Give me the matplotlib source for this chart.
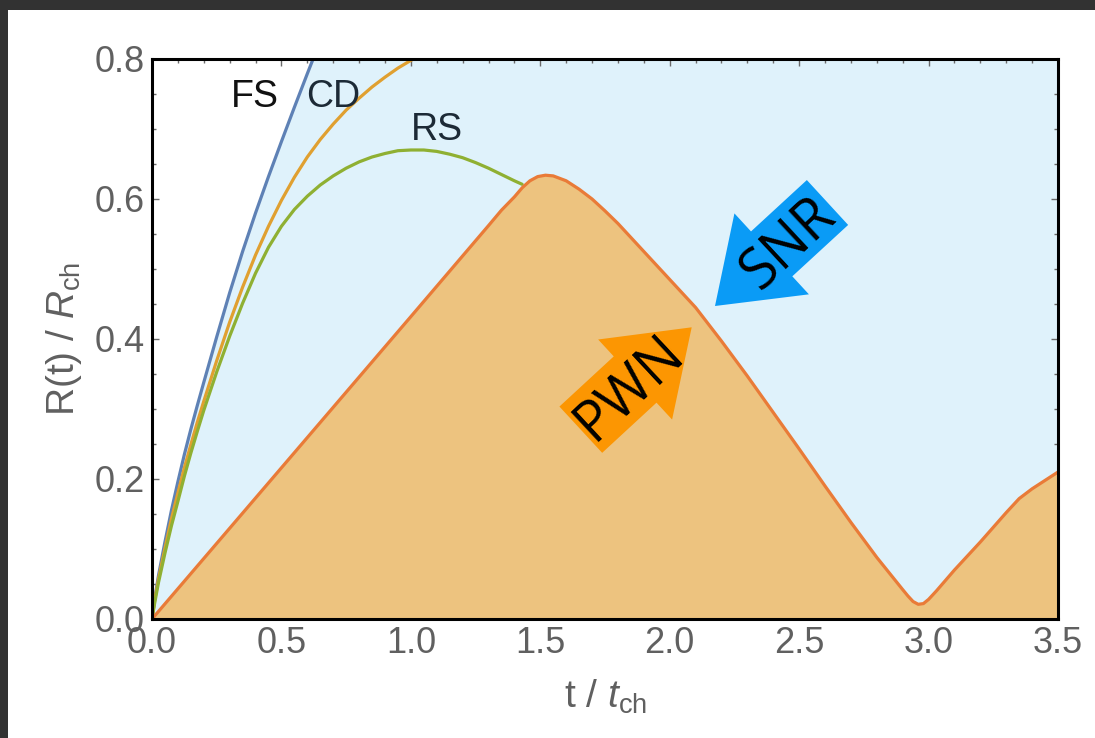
import matplotlib
matplotlib.use("Agg")
import matplotlib.pyplot as plt
from matplotlib.patches import Polygon, Rectangle
import numpy as np

# ---- shock radii (units of R_ch) versus time (units of t_ch) ----
fs_t = [0.0, 0.01, 0.025, 0.05, 0.075, 0.10, 0.125, 0.15, 0.175, 0.20, 0.25, 0.30, 0.35, 0.40,
        0.45, 0.50, 0.55, 0.60, 0.65]
fs_r = [0.0, 0.028, 0.062, 0.110, 0.155, 0.196, 0.235, 0.271, 0.305, 0.338, 0.403, 0.466, 0.525, 0.580,
        0.632, 0.682, 0.731, 0.779, 0.826]

cd_t = [0.0, 0.01, 0.025, 0.05, 0.075, 0.10, 0.125, 0.15, 0.175, 0.20, 0.25, 0.30, 0.35, 0.40, 0.45,
        0.50, 0.55, 0.60, 0.65, 0.70, 0.75, 0.80, 0.85, 0.90, 0.95, 1.00, 1.05, 1.10]
cd_r = [0.0, 0.026, 0.057, 0.101, 0.143, 0.180, 0.216, 0.249, 0.281, 0.311, 0.369, 0.424, 0.474, 0.520, 0.561,
        0.598, 0.631, 0.660, 0.685, 0.707, 0.727, 0.744, 0.760, 0.774, 0.787, 0.798, 0.809, 0.819]

rs_t = [0.0, 0.01, 0.025, 0.05, 0.075, 0.10, 0.125, 0.15, 0.175, 0.20, 0.25, 0.30, 0.35, 0.40, 0.45,
        0.50, 0.55, 0.60, 0.65, 0.70, 0.75, 0.80, 0.85, 0.90, 0.95, 1.00, 1.05, 1.10, 1.15, 1.20,
        1.25, 1.30, 1.35, 1.40, 1.43]
rs_r = [0.0, 0.022, 0.052, 0.094, 0.133, 0.168, 0.204, 0.237, 0.268, 0.298, 0.353, 0.404, 0.451, 0.494, 0.531,
        0.561, 0.585, 0.604, 0.620, 0.633, 0.644, 0.653, 0.660, 0.665, 0.669, 0.670, 0.670, 0.668, 0.664, 0.659,
        0.652, 0.644, 0.635, 0.626, 0.621]

pwn_t = [0.0, 0.5, 1.0, 1.3, 1.35, 1.4, 1.43, 1.46, 1.49, 1.52, 1.55, 1.6, 1.65, 1.7, 1.75, 1.8, 1.85,
         1.9, 2.0, 2.1, 2.2, 2.3, 2.4, 2.5, 2.6, 2.7, 2.8, 2.85, 2.9, 2.92, 2.94, 2.96, 2.98, 3.0,
         3.03, 3.1, 3.2, 3.3, 3.35, 3.4, 3.5]
pwn_r = [0.0, 0.216, 0.432, 0.562, 0.584, 0.603, 0.616, 0.626, 0.632, 0.634, 0.633, 0.626, 0.614, 0.600,
         0.583, 0.565, 0.545, 0.525, 0.485, 0.445, 0.397, 0.347, 0.295, 0.243, 0.190, 0.138, 0.088,
         0.065, 0.042, 0.033, 0.025, 0.021, 0.022, 0.028, 0.040, 0.070, 0.110, 0.152, 0.172, 0.186, 0.210]

x_ticks = [0.0, 0.5, 1.0, 1.5, 2.0, 2.5, 3.0, 3.5]
y_ticks = [0.0, 0.2, 0.4, 0.6, 0.8]

W, H = 1095, 738
plt.rcParams['font.family'] = ['Liberation Sans', 'DejaVu Sans']
plt.rcParams['mathtext.fontset'] = 'custom'
plt.rcParams['mathtext.rm'] = 'Liberation Sans'
plt.rcParams['mathtext.it'] = 'Liberation Sans:italic'

fig = plt.figure(figsize=(W / 100, H / 100), dpi=100)
fig.patch.set_facecolor('white')

# dark window edge along top and left
fig.patches.append(Rectangle((0, 1 - 10 / H), 1, 10 / H, transform=fig.transFigure,
                             facecolor='#323232', edgecolor='none', zorder=0))
fig.patches.append(Rectangle((0, 0), 8 / W, 1, transform=fig.transFigure,
                             facecolor='#323232', edgecolor='none', zorder=0))

ax = fig.add_axes([152 / W, 1 - 619 / H, (1058 - 152) / W, (619 - 59) / H])
ax.set_xlim(0, 3.5)
ax.set_ylim(0, 0.8)

# shocked region inside the forward shock
ax.fill_between(fs_t + [3.5], fs_r + [0.8], 0, color='#DFF2FB', lw=0, zorder=1)

ax.plot(fs_t, fs_r, color='#5E81B5', lw=2.3, zorder=2, solid_capstyle='round')
ax.plot(cd_t, cd_r, color='#E0A030', lw=2.3, zorder=2, solid_capstyle='round')
ax.plot(rs_t, rs_r, color='#8FB032', lw=2.3, zorder=2, solid_capstyle='round')

# pulsar wind nebula
ax.fill_between(pwn_t, pwn_r, 0, color='#EDC37F', lw=0, zorder=3)
ax.plot(pwn_t, pwn_r, color='#E97B38', lw=2.3, zorder=4, solid_joinstyle='round')

for s in ax.spines.values():
    s.set_linewidth(2.2)
    s.set_color('black')
    s.set_zorder(6)

ax.set_xticks(x_ticks)
ax.set_xticklabels([f"{v:.1f}" for v in x_ticks])
ax.set_yticks(y_ticks)
ax.set_yticklabels([f"{v:.1f}" for v in y_ticks])
ax.set_xticks(np.arange(0, 3.51, 0.1), minor=True)
ax.set_yticks(np.arange(0, 0.81, 0.05), minor=True)
ax.tick_params(which='both', direction='in', top=True, right=True, color='#6a6a6a', width=1)
ax.tick_params(which='major', length=5, labelsize=26, labelcolor='#606060', pad=5)
ax.tick_params(which='minor', length=3)

ax.set_xlabel(r"t / $t_{\mathrm{ch}}$", fontsize=28, color='#606060', labelpad=12)
ax.set_ylabel(r"R(t) / $R_{\mathrm{ch}}$", fontsize=28, color='#606060', labelpad=8)

ax.text(0.398, 0.746, "FS", fontsize=27, color='#111111', ha='center', va='center', zorder=7)
ax.text(0.70, 0.746, "CD", fontsize=27, color='#1c2a36', ha='center', va='center', zorder=7)
ax.text(1.10, 0.699, "RS", fontsize=27, color='#1c2a36', ha='center', va='center', zorder=7)


def block_arrow(tail, tip, shaft_w, head_w, head_len):
    """Block arrow outline in pixel coordinates (y downward), returned in figure fraction."""
    tail = np.array(tail, float)
    tip = np.array(tip, float)
    d = tip - tail
    u = d / np.hypot(*d)
    n = np.array([-u[1], u[0]])
    base = tip - u * head_len
    pts = [tail + n * shaft_w / 2, base + n * shaft_w / 2, base + n * head_w / 2, tip,
           base - n * head_w / 2, base - n * shaft_w / 2, tail - n * shaft_w / 2]
    return [(p[0] / W, 1 - p[1] / H) for p in pts]


fig.patches.append(Polygon(block_arrow((827.5, 202.5), (715, 306), 61, 110, 77),
                           closed=True, transform=fig.transFigure, facecolor='#0A9BF6',
                           edgecolor='none', zorder=8))
fig.patches.append(Polygon(block_arrow((580.8, 429.7), (691.7, 327.3), 63, 109, 77),
                           closed=True, transform=fig.transFigure, facecolor='#FC9602',
                           edgecolor='none', zorder=8))
fig.text(789 / W, 1 - 245 / H, "SNR", fontsize=40, family='Open Sans', rotation=43,
         ha='center', va='center', rotation_mode='anchor', color='black', zorder=9)
fig.text(630 / W, 1 - 388 / H, "PWN", fontsize=40, family='Open Sans', rotation=43,
         ha='center', va='center', rotation_mode='anchor', color='black', zorder=9)

fig.savefig("out.png", dpi=100)
